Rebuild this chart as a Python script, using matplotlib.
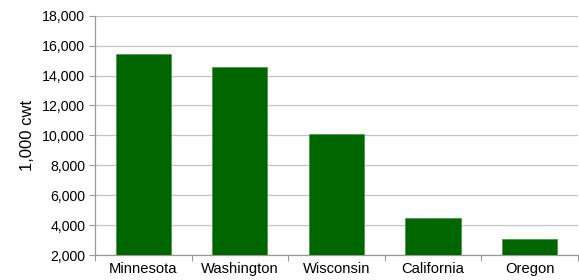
import matplotlib
matplotlib.use("Agg")
import matplotlib.pyplot as plt
import numpy as np
from matplotlib.ticker import FuncFormatter

# Production by state, 1,000 cwt
states = ["Minnesota", "Washington", "Wisconsin", "California", "Oregon"]
production = [15430, 14570, 10060, 4480, 3100]

plt.rcParams["font.family"] = ["Liberation Sans", "DejaVu Sans"]

fig = plt.figure(figsize=(5.79, 2.80), dpi=100)
ax = fig.add_axes([0.164, 0.089, 0.834, 0.855])

x = np.arange(len(states))
ax.bar(x, np.array(production) - 2000, bottom=2000, width=0.57,
       color="#006600", edgecolor="#4a9a4a", linewidth=0.6, zorder=3)

ax.set_xlim(-0.5, len(states) - 0.5)
ax.set_ylim(2000, 18000)
ax.set_yticks(np.arange(2000, 18001, 2000))
ax.yaxis.set_major_formatter(FuncFormatter(lambda v, p: f"{int(v):,}"))
ax.grid(axis="y", color="#c4c4c4", linewidth=0.9, zorder=0)

# category boundary ticks, labels centred
ax.set_xticks(np.arange(-0.5, len(states), 1.0))
ax.set_xticklabels([])
ax.set_xticks(x, minor=True)
ax.set_xticklabels(states, minor=True)
ax.tick_params(axis="x", which="major", length=4, color="#999999", direction="out")
ax.tick_params(axis="x", which="minor", length=0, labelsize=10.6, pad=5)
ax.tick_params(axis="y", length=4, color="#999999", labelsize=10.2, pad=3)

ax.set_ylabel("1,000 cwt", fontsize=12, labelpad=5)

for s in ["top", "right"]:
    ax.spines[s].set_visible(False)
for s in ["left", "bottom"]:
    ax.spines[s].set_color("#999999")
    ax.spines[s].set_linewidth(0.9)

fig.savefig("out.png", dpi=100)
